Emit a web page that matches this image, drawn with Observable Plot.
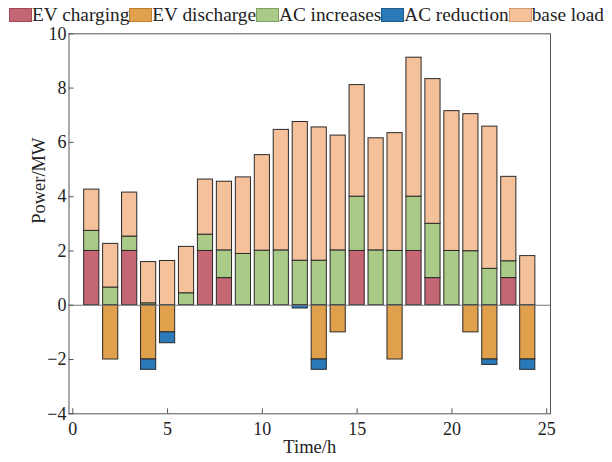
<!DOCTYPE html>
<html>
<head>
<meta charset="utf-8">
<script src="https://cdn.jsdelivr.net/npm/d3@7"></script>
<script src="https://cdn.jsdelivr.net/npm/@observablehq/plot@0.6"></script>
<style>
  body { margin: 0; background: white; }
  #wrap { position: relative; width: 612px; height: 462px; font-family: "Liberation Serif", "Times New Roman", serif; }
  #legend { position: absolute; top: 7px; left: 9px; display: flex; align-items: center; font-size: 19.3px; line-height: 15px; color: #222; white-space: nowrap; }
  #legend .item { display: flex; align-items: center; }
  #legend .sw { width: 21px; height: 12px; border: 1px solid; margin-right: 0px; }
  #chart { position: absolute; top: 0; left: 0; }
</style>
</head>
<body>
<div id="wrap">
  <div id="chart"></div>
  <div id="legend"></div>
</div>
<script>
const hours = d3.range(1, 25);
const seriesNames = ["EV charging", "EV discharge", "AC increases", "AC reduction", "base load"];
const seriesColors = ["#c56675", "#e1a04b", "#aacb88", "#2a79b9", "#f5c19b"];
const seriesBorders = ["#a04858", "#c07e30", "#7ea060", "#1c5a8c", "#d59a70"];

const evCharging  = [2, 0, 2, 0, 0, 0, 2, 1, 0, 0, 0, 0, 0, 0, 2, 0, 0, 2, 1, 0, 0, 0, 1, 0];
const evDischarge = [0, -2, 0, -2, -1, 0, 0, 0, 0, 0, 0, 0, -2, -1, 0, 0, -2, 0, 0, 0, -1, -2, 0, -2];
const acIncrease  = [0.74, 0.65, 0.53, 0.07, 0, 0.44, 0.6, 1.02, 1.89, 2.01, 2.02, 1.64, 1.64, 2.02, 2.0, 2.02, 2.0, 2.0, 2.0, 2.0, 1.99, 1.34, 0.62, 0];
const acReduction = [0, 0, 0, -0.38, -0.4, 0, 0, 0, 0, 0, 0, -0.12, -0.38, 0, 0, 0, 0, 0, 0, 0, 0, -0.2, 0, -0.38];
const baseLoad    = [1.52, 1.61, 1.62, 1.52, 1.63, 1.71, 2.03, 2.53, 2.82, 3.52, 4.44, 5.11, 4.91, 4.23, 4.11, 4.13, 4.34, 5.12, 5.33, 5.15, 5.05, 5.24, 3.11, 1.81];

const xTicks = [0, 5, 10, 15, 20, 25];
const yTicks = [-4, -2, 0, 2, 4, 6, 8, 10];

const seriesValues = [evCharging, evDischarge, acIncrease, acReduction, baseLoad];
const data = [];
seriesNames.forEach((name, i) => {
  hours.forEach((h, j) => {
    const v = seriesValues[i][j];
    if (v !== 0) data.push({h, series: name, value: v});
  });
});

const chart = Plot.plot({
  width: 612,
  height: 462,
  marginLeft: 68.5,
  marginRight: 62,
  marginTop: 33.3,
  marginBottom: 48.7,
  x: {domain: [-0.2, 25.2]},
  y: {domain: [-4, 10]},
  color: {domain: seriesNames, range: seriesColors},
  style: {fontFamily: "Liberation Serif, Times New Roman, serif", fontSize: "18px", color: "#222", background: "white"},
  marks: [
    Plot.rectY(data, Plot.stackY({
      x: "h",
      x1: d => d.h - 0.4,
      x2: d => d.h + 0.4,
      y: "value",
      fill: "series",
      stroke: "#2a2a2a",
      strokeWidth: 1
    })),
    Plot.ruleY([0], {stroke: "#777", strokeWidth: 1.2}),
    Plot.frame({stroke: "#555", strokeWidth: 1}),
    Plot.axisX({ticks: xTicks, tickSize: -5, tickFormat: () => "", label: null, stroke: "#555"}),
    Plot.axisX({ticks: xTicks, tickSize: 0, tickPadding: 8, label: null, fill: "#222", fontSize: 18}),
    Plot.axisY({ticks: yTicks, tickSize: -5, tickFormat: () => "", label: null, stroke: "#555"}),
    Plot.axisY({ticks: yTicks, tickSize: 0, tickPadding: 2.5, label: null, fill: "#222", fontSize: 18}),
    Plot.text(["Time/h"], {frameAnchor: "bottom", dy: 33.5, lineAnchor: "middle", fill: "#222", fontSize: 18.5}),
    Plot.text(["Power/MW"], {frameAnchor: "left", dx: -29.5, rotate: -90, lineAnchor: "middle", fill: "#222", fontSize: 18.5})
  ]
});
document.getElementById("chart").appendChild(chart);

const legend = document.getElementById("legend");
seriesNames.forEach((name, i) => {
  const item = document.createElement("div");
  item.className = "item";
  const sw = document.createElement("div");
  sw.className = "sw";
  sw.style.background = seriesColors[i];
  sw.style.borderColor = seriesBorders[i];
  const t = document.createElement("span");
  t.textContent = name;
  item.appendChild(sw);
  item.appendChild(t);
  legend.appendChild(item);
});
</script>
</body>
</html>
